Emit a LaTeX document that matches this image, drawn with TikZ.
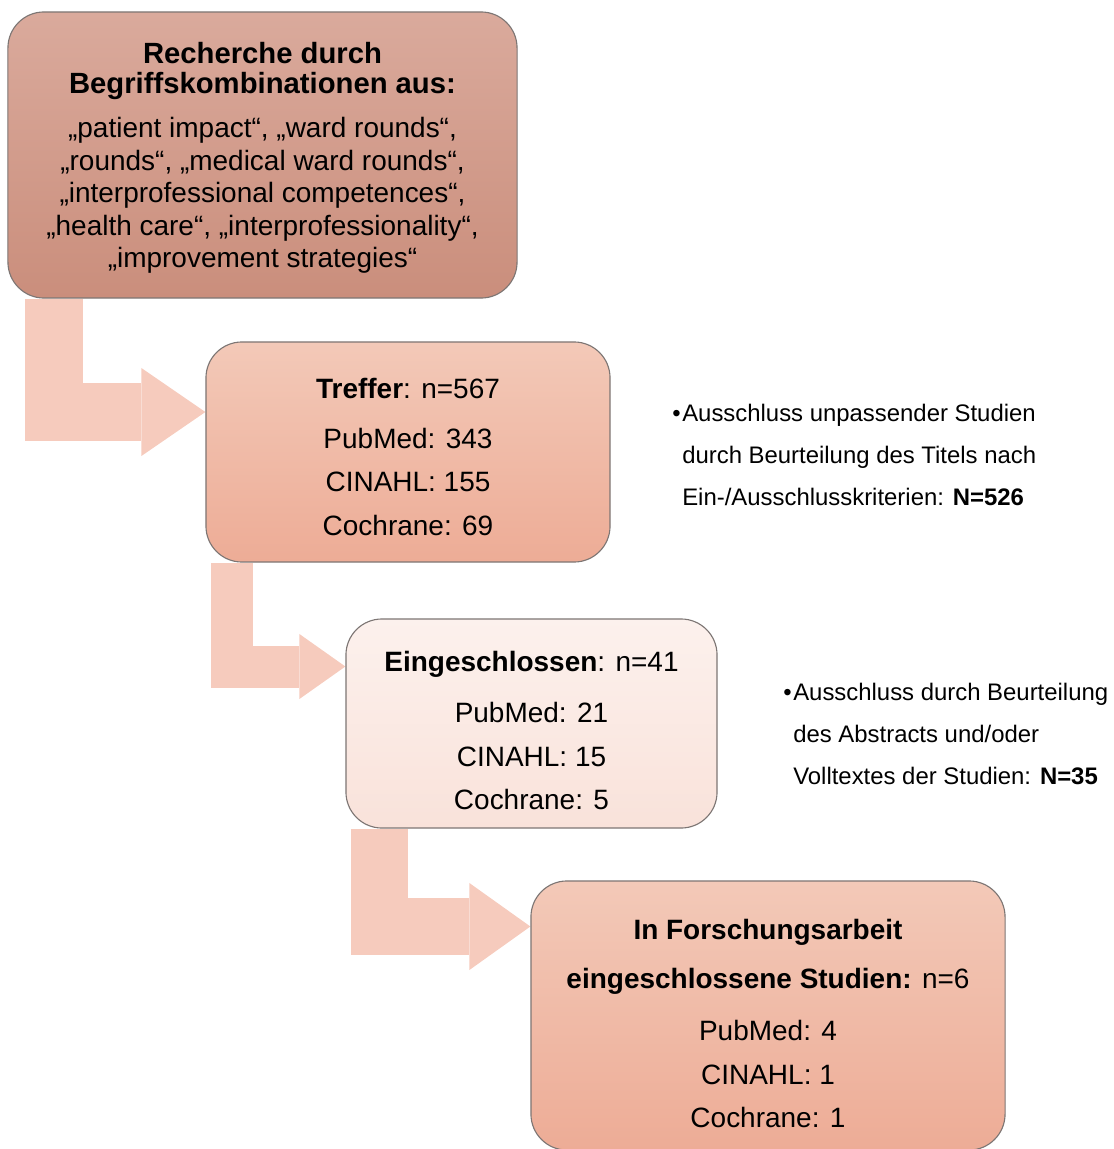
\documentclass[tikz,border=0pt]{standalone}
\usepackage{fontspec}
\setmainfont{Liberation Sans}
\usepackage{xcolor}
\usetikzlibrary{arrows.meta, calc, backgrounds}

\definecolor{boxline}{RGB}{125,118,116}
\definecolor{arrowpink}{RGB}{246,203,189}
\definecolor{searchtop}{RGB}{218,170,156}
\definecolor{searchbot}{RGB}{202,142,124}
\definecolor{hitstop}{RGB}{243,201,184}
\definecolor{hitsbot}{RGB}{237,172,150}
\definecolor{paletop}{RGB}{252,241,237}
\definecolor{palebot}{RGB}{249,226,218}

\begin{document}
\begin{tikzpicture}[x=0.025cm, y=-0.025cm,
    box/.style={rectangle, draw=boxline, line width=0.8pt, rounded corners=0.9cm, align=center, inner sep=0pt, font=\fontsize{19.9}{31}\selectfont},
    flowarrow/.style={draw=arrowpink, line join=miter},
    note/.style={anchor=north west, align=left, inner sep=0pt, font=\fontsize{17}{29.8}\selectfont}]

    \useasboundingbox (0,0) rectangle (1113,1149);

    % boxes
    \node (search) [box, top color=searchtop, bottom color=searchbot, minimum width=12.725cm, minimum height=7.15cm, font=\fontsize{19.9}{23.1}\selectfont] at (262.5,155) {
        \rule{0pt}{19pt}{\fontsize{20.8}{23.1}\selectfont\bfseries Recherche durch}\\[-1.1pt]
        {\fontsize{20.8}{23.1}\selectfont\bfseries Begriffskombinationen aus:}\\[8.2pt]
        „patient impact“, „ward rounds“,\\
        „rounds“, „medical ward rounds“,\\
        „interprofessional competences“,\\
        „health care“, „interprofessionality“,\\
        „improvement strategies“
    };

    \node (hits) [box, top color=hitstop, bottom color=hitsbot, minimum width=10.1cm, minimum height=5.5cm] at (408,452) {
        \rule{0pt}{21.6pt}\textbf{Treffer}: n=567\\[4.3pt]
        PubMed: 343\\
        CINAHL: 155\\
        Cochrane: 69
    };

    \node (included) [box, top color=paletop, bottom color=palebot, minimum width=9.275cm, minimum height=5.225cm] at (531.5,723.5) {
        \rule{0pt}{24.5pt}\textbf{Eingeschlossen}: n=41\\[5.5pt]
        PubMed: 21\\
        CINAHL: 15\\
        Cochrane: 5
    };

    \node (final) [box, top color=hitstop, bottom color=hitsbot, minimum width=11.85cm, minimum height=6.725cm] at (768,1015.5) {
        \rule{0pt}{26pt}\textbf{In Forschungsarbeit}\\[4pt]
        \textbf{eingeschlossene Studien:} n=6\\[6pt]
        PubMed: 4\\
        CINAHL: 1\\
        Cochrane: 1
    };

    % exclusion notes
    \node (drop1) [note] at (672,404) {
        \makebox[0.25cm][l]{\textbullet}Ausschluss unpassender Studien\\
        \hspace*{0.25cm}durch Beurteilung des Titels nach\\
        \hspace*{0.25cm}Ein-/Ausschlusskriterien: \textbf{N=526}
    };

    \node (drop2) [note] at (783,683) {
        \makebox[0.25cm][l]{\textbullet}Ausschluss durch Beurteilung\\
        \hspace*{0.25cm}des Abstracts und/oder\\
        \hspace*{0.25cm}Volltextes der Studien: \textbf{N=35}
    };

    % bent arrows behind the boxes
    \begin{scope}[on background layer]
        \draw [flowarrow, line width=1.45cm, -{Triangle[width=2.2cm, length=1.6cm, line width=0pt]}]
            (search.south -| 54,0) |- ($(hits.west)+(0,-40)$);
        \draw [flowarrow, line width=1.05cm, -{Triangle[width=1.625cm, length=1.15cm, line width=0pt]}]
            (hits.south -| 232,0) |- ($(included.west)+(0,-57)$);
        \draw [flowarrow, line width=1.425cm, -{Triangle[width=2.175cm, length=1.525cm, line width=0pt]}]
            (included.south -| 379.5,0) |- ($(final.west)+(0,-89)$);
    \end{scope}

\end{tikzpicture}
\end{document}
